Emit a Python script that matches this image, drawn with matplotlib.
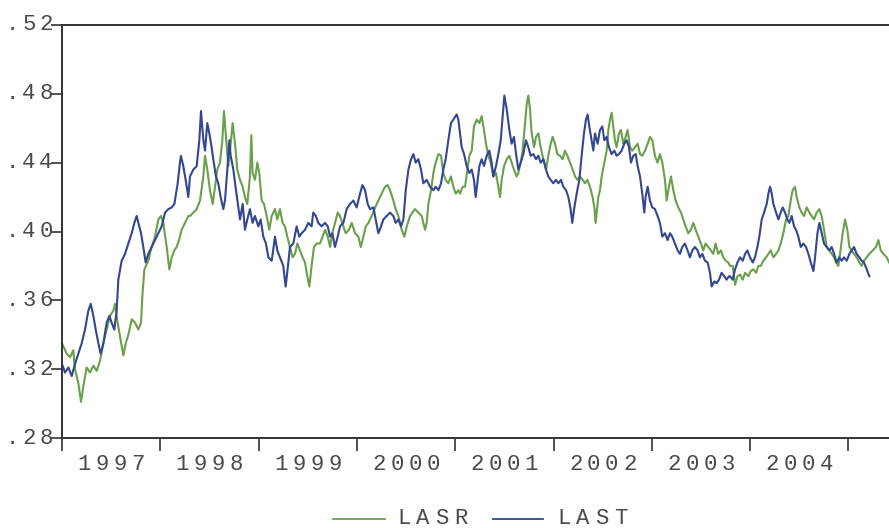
import matplotlib
matplotlib.use("Agg")
import matplotlib.pyplot as plt
from matplotlib.transforms import ScaledTranslation
from matplotlib.lines import Line2D

# ---- data: decimal-year dates and values ----
lasr_t = [1997.000, 1997.048, 1997.082, 1997.115, 1997.132, 1997.166, 1997.193, 1997.217, 1997.251, 1997.285,
          1997.319, 1997.353, 1997.387, 1997.421, 1997.454, 1997.488, 1997.522, 1997.539, 1997.566, 1997.590,
          1997.624, 1997.648, 1997.675, 1997.709, 1997.743, 1997.777, 1997.804, 1997.817, 1997.838, 1997.878,
          1997.912, 1997.946, 1997.980, 1998.007, 1998.031, 1998.065, 1998.092, 1998.116, 1998.143, 1998.166,
          1998.190, 1998.217, 1998.251, 1998.285,
          1998.302, 1998.336, 1998.370, 1998.404, 1998.438, 1998.455, 1998.478, 1998.505, 1998.533, 1998.556,
          1998.580, 1998.607, 1998.631, 1998.648, 1998.668, 1998.692, 1998.716, 1998.736, 1998.760, 1998.783,
          1998.811, 1998.838, 1998.861, 1998.885, 1998.912, 1998.926, 1998.939, 1998.963, 1998.987, 1999.007,
          1999.031, 1999.055, 1999.082, 1999.109, 1999.133, 1999.167, 1999.190, 1999.217, 1999.244, 1999.268,
          1999.292, 1999.319, 1999.346, 1999.370, 1999.394, 1999.421, 1999.448, 1999.472, 1999.495, 1999.516,
          1999.539, 1999.563, 1999.590, 1999.624, 1999.651,
          1999.676, 1999.703, 1999.727, 1999.750, 1999.777, 1999.805, 1999.828, 1999.862, 1999.886, 1999.920,
          1999.947, 1999.981, 2000.015, 2000.039, 2000.066, 2000.090, 2000.117, 2000.151, 2000.178, 2000.218,
          2000.252, 2000.286, 2000.313, 2000.337, 2000.371, 2000.395, 2000.422, 2000.456, 2000.483, 2000.507,
          2000.541, 2000.564, 2000.591, 2000.625, 2000.659, 2000.693, 2000.710, 2000.727, 2000.754, 2000.778,
          2000.801, 2000.829, 2000.856, 2000.879, 2000.903, 2000.930, 2000.957, 2000.981, 2001.005, 2001.032,
          2001.049, 2001.076, 2001.100, 2001.124, 2001.144, 2001.168, 2001.191, 2001.219, 2001.246, 2001.269,
          2001.293, 2001.313, 2001.337, 2001.361, 2001.388, 2001.415, 2001.439, 2001.456, 2001.473, 2001.497,
          2001.524, 2001.551, 2001.574, 2001.598, 2001.625, 2001.642, 2001.666, 2001.686, 2001.710, 2001.727,
          2001.744, 2001.761, 2001.778, 2001.802, 2001.822, 2001.846, 2001.869, 2001.897, 2001.924, 2001.947,
          2001.971, 2001.991, 2002.015, 2002.039, 2002.066, 2002.093, 2002.117, 2002.141, 2002.168, 2002.195,
          2002.219, 2002.242, 2002.269, 2002.297, 2002.320, 2002.344, 2002.371, 2002.398, 2002.418, 2002.428,
          2002.439, 2002.456, 2002.473, 2002.490, 2002.517, 2002.541, 2002.558, 2002.575, 2002.592, 2002.609,
          2002.625, 2002.642, 2002.666, 2002.686, 2002.710, 2002.734, 2002.754, 2002.778, 2002.802, 2002.829,
          2002.856, 2002.880, 2002.903, 2002.931, 2002.958, 2002.981, 2003.005, 2003.032, 2003.059, 2003.083,
          2003.107, 2003.134, 2003.151, 2003.168, 2003.195, 2003.219, 2003.242, 2003.269, 2003.297, 2003.320,
          2003.344, 2003.371, 2003.398, 2003.422, 2003.446, 2003.473, 2003.500, 2003.524, 2003.547, 2003.575,
          2003.602, 2003.625, 2003.649, 2003.676, 2003.703, 2003.727, 2003.751, 2003.778,
          2003.796, 2003.823, 2003.847, 2003.871, 2003.898, 2003.925, 2003.949, 2003.983, 2004.006, 2004.033,
          2004.061, 2004.084, 2004.108, 2004.135, 2004.162, 2004.186, 2004.210, 2004.237, 2004.264, 2004.288,
          2004.311, 2004.338, 2004.366, 2004.389, 2004.413, 2004.433, 2004.457, 2004.474, 2004.501, 2004.525,
          2004.549, 2004.576, 2004.603, 2004.627, 2004.650, 2004.677, 2004.705, 2004.728, 2004.752, 2004.779,
          2004.806, 2004.830, 2004.854, 2004.874, 2004.898, 2004.915, 2004.942, 2004.966, 2004.989, 2005.010,
          2005.033, 2005.057, 2005.084, 2005.111, 2005.135, 2005.159, 2005.186, 2005.213, 2005.247, 2005.281,
          2005.305, 2005.329, 2005.356, 2005.390, 2005.414]
lasr_v = [.335, .329, .327, .331, .320, .312, .301, .310, .321, .318,
          .322, .319, .325, .335, .343, .351, .354, .358, .347, .339,
          .328, .335, .340, .349, .347, .343, .347, .362, .378, .383,
          .391, .397, .407, .409, .405, .391, .378, .385, .389, .391,
          .395, .401, .405, .409,
          .409, .411, .413, .418, .432, .444, .436, .424, .416, .426,
          .436, .440, .453, .470, .455, .438, .451, .463, .451, .436,
          .430, .426, .420, .416, .432, .456, .434, .430, .440, .434,
          .418, .416, .409, .401, .409, .413, .407, .413, .405, .403,
          .397, .391, .385, .387, .393, .389, .385, .382, .374, .368,
          .380, .391, .393, .393, .397,
          .401, .397, .391, .399, .405, .411, .409, .403, .399, .401,
          .405, .399, .397, .391, .397, .403, .405, .409, .413, .418,
          .422, .426, .427, .424, .418, .413, .409, .401, .397, .403,
          .409, .411, .413, .411, .409, .401, .405, .416, .424, .434,
          .440, .445, .444, .434, .430, .428, .432, .426, .422, .424,
          .422, .426, .426, .436, .444, .447, .461, .465, .463, .467,
          .459, .451, .444, .440, .432, .434, .426, .420, .430, .438,
          .442, .444, .440, .436, .432, .434, .440, .447, .463, .474,
          .479, .471, .457, .449, .455, .457, .449, .442, .436, .444,
          .451, .455, .451, .445, .444, .442, .447, .444, .440, .436,
          .432, .430, .432, .430, .428, .430, .426, .420, .413, .405,
          .411, .420, .424, .432, .440, .447, .459, .465, .469, .461,
          .453, .449, .457, .459, .451, .455, .459, .449, .447, .449,
          .451, .445, .444, .447, .451, .455, .453, .444, .440, .445,
          .440, .430, .418, .424, .432, .424, .418, .414, .411, .407,
          .403, .399, .401, .405, .401, .397, .393, .389, .393, .391,
          .389, .387, .393, .387, .389, .385, .383, .382,
          .380, .380, .369, .374, .375, .372, .376, .374, .377, .378,
          .376, .380, .380, .383, .385, .387, .389, .385, .387, .389,
          .393, .399, .407, .409, .418, .424, .426, .420, .414, .411,
          .409, .414, .411, .409, .407, .411, .413, .409, .401, .391,
          .389, .387, .385, .382, .380, .387, .399, .407, .401, .391,
          .389, .387, .385, .382, .380, .383, .385, .387, .389, .391,
          .395, .389, .387, .385, .382]

last_t = [1997.000, 1997.031, 1997.065, 1997.099, 1997.132, 1997.166, 1997.200, 1997.234, 1997.268, 1997.292,
          1997.319, 1997.343, 1997.370, 1997.393, 1997.421, 1997.454, 1997.482, 1997.505, 1997.532, 1997.556,
          1997.573, 1997.607, 1997.641, 1997.675, 1997.709, 1997.736, 1997.760, 1997.777, 1997.804, 1997.827,
          1997.851, 1997.878, 1997.912, 1997.946, 1997.980, 1998.014, 1998.048, 1998.082, 1998.116, 1998.143,
          1998.177, 1998.200, 1998.210, 1998.234, 1998.258, 1998.285,
          1998.302, 1998.336, 1998.370, 1998.397, 1998.414, 1998.438, 1998.455, 1998.478, 1998.499, 1998.522,
          1998.539, 1998.566, 1998.590, 1998.614, 1998.641, 1998.658, 1998.682, 1998.702, 1998.716, 1998.743,
          1998.770, 1998.794, 1998.811, 1998.838, 1998.861, 1998.885, 1998.912, 1998.939, 1998.963, 1998.997,
          1999.021, 1999.048, 1999.075, 1999.099, 1999.133, 1999.167, 1999.190, 1999.217, 1999.251, 1999.275,
          1999.295, 1999.319, 1999.353, 1999.387, 1999.414, 1999.438, 1999.472, 1999.506, 1999.539, 1999.556,
          1999.583, 1999.607, 1999.641,
          1999.676, 1999.703, 1999.727, 1999.750, 1999.777, 1999.805, 1999.828, 1999.862, 1999.896, 1999.930,
          1999.964, 1999.998, 2000.032, 2000.056, 2000.083, 2000.110, 2000.134, 2000.168, 2000.191, 2000.218,
          2000.246, 2000.269, 2000.303, 2000.337, 2000.371, 2000.395, 2000.422, 2000.449, 2000.473, 2000.497,
          2000.524, 2000.551, 2000.575, 2000.598, 2000.625, 2000.652, 2000.676, 2000.710, 2000.744, 2000.778,
          2000.801, 2000.829, 2000.856, 2000.879, 2000.903, 2000.930, 2000.957, 2000.981, 2001.015, 2001.032,
          2001.049, 2001.066, 2001.090, 2001.117, 2001.144, 2001.168, 2001.191, 2001.208, 2001.225, 2001.246,
          2001.269, 2001.293, 2001.320, 2001.347, 2001.371, 2001.388, 2001.415, 2001.439, 2001.463, 2001.483,
          2001.500, 2001.524, 2001.551, 2001.574, 2001.598, 2001.619, 2001.642, 2001.666, 2001.693, 2001.720,
          2001.744, 2001.768, 2001.795, 2001.822, 2001.846, 2001.869, 2001.897, 2001.924, 2001.947, 2001.971,
          2001.998, 2002.025, 2002.049, 2002.076, 2002.100, 2002.127, 2002.151, 2002.174, 2002.191, 2002.212,
          2002.236, 2002.263, 2002.286, 2002.310, 2002.330, 2002.347, 2002.364, 2002.388, 2002.405,
          2002.422, 2002.449, 2002.473, 2002.497, 2002.517, 2002.541, 2002.564, 2002.592, 2002.619, 2002.642,
          2002.666, 2002.693, 2002.720, 2002.744, 2002.768, 2002.788, 2002.812, 2002.836, 2002.856, 2002.880,
          2002.903, 2002.924, 2002.937, 2002.958, 2002.981, 2003.005, 2003.032, 2003.059, 2003.083, 2003.107,
          2003.134, 2003.161, 2003.185, 2003.208, 2003.236, 2003.263, 2003.286, 2003.310, 2003.337, 2003.364,
          2003.388, 2003.412, 2003.439, 2003.466, 2003.490, 2003.514, 2003.541, 2003.568, 2003.592, 2003.609,
          2003.636, 2003.659, 2003.683, 2003.710, 2003.737, 2003.761, 2003.785,
          2003.796, 2003.823, 2003.847, 2003.871, 2003.898, 2003.925, 2003.949, 2003.972, 2003.999, 2004.027,
          2004.050, 2004.074, 2004.094, 2004.118, 2004.142, 2004.169, 2004.186, 2004.203, 2004.220, 2004.237,
          2004.264, 2004.288, 2004.311, 2004.332, 2004.355, 2004.379, 2004.399, 2004.423, 2004.447, 2004.467,
          2004.491, 2004.515, 2004.542, 2004.569, 2004.593, 2004.617, 2004.644, 2004.661, 2004.685, 2004.705,
          2004.728, 2004.752, 2004.779, 2004.806, 2004.830, 2004.854, 2004.881, 2004.908, 2004.932, 2004.956,
          2004.983, 2005.010, 2005.033, 2005.057, 2005.084, 2005.111, 2005.135, 2005.159, 2005.186, 2005.213]
last_v = [.323, .318, .321, .316, .323, .329, .335, .343, .354, .358,
          .351, .343, .335, .329, .335, .347, .351, .347, .343, .354,
          .372, .383, .387, .393, .399, .405, .409, .405, .399, .391,
          .382, .387, .391, .395, .399, .403, .411, .413, .414, .416,
          .428, .440, .444, .438, .430, .420,
          .432, .436, .438, .453, .470, .453, .447, .463, .457, .449,
          .442, .432, .428, .420, .413, .418, .436, .453, .444, .436,
          .424, .414, .407, .416, .401, .407, .413, .405, .409, .403,
          .407, .397, .393, .385, .383, .397, .389, .385, .380, .368,
          .378, .391, .393, .403, .397, .399, .401, .405, .403, .411,
          .409, .405, .403,
          .405, .403, .397, .399, .391, .397, .403, .405, .413, .416,
          .418, .414, .422, .427, .424, .416, .413, .414, .407, .399,
          .403, .407, .409, .411, .409, .405, .407, .403, .407, .424,
          .436, .442, .445, .440, .442, .436, .428, .430, .426, .424,
          .426, .424, .428, .436, .442, .453, .463, .465, .468, .465,
          .457, .449, .445, .438, .434, .436, .430, .420, .428, .438,
          .442, .438, .444, .447, .440, .432, .438, .445, .453, .467,
          .479, .471, .459, .451, .455, .445, .436, .440, .445, .453,
          .449, .444, .445, .442, .444, .440, .442, .436, .432, .430,
          .428, .430, .428, .430, .426, .424, .420, .413, .405, .414,
          .422, .430, .444, .457, .465, .468, .461, .453, .447,
          .457, .451, .459, .461, .453, .455, .449, .445, .447, .444,
          .445, .447, .451, .453, .449, .440, .444, .445, .438, .432,
          .422, .411, .420, .426, .418, .414, .413, .409, .405, .397,
          .399, .395, .399, .397, .393, .389, .387, .391, .393, .389,
          .385, .389, .391, .389, .385, .387, .383, .382, .376, .368,
          .371, .370, .372, .376, .374, .372, .374,
          .374, .372, .378, .382, .385, .383, .387, .389, .385, .382,
          .385, .391, .397, .407, .411, .416, .422, .426, .422, .416,
          .411, .407, .411, .414, .411, .407, .405, .409, .403, .401,
          .397, .391, .393, .391, .387, .382, .377, .385, .399, .405,
          .399, .393, .391, .389, .391, .387, .382, .385, .383, .385,
          .383, .387, .389, .391, .387, .385, .383, .382, .378, .374]

series_names = ["LASR", "LAST"]
year_labels = ["1997", "1998", "1999", "2000", "2001", "2002", "2003", "2004"]
y_ticks = [0.28, 0.32, 0.36, 0.40, 0.44, 0.48, 0.52]

# ---- styling ----
W, H, DPI = 889, 528, 100
GREEN = "#6a9f4b"
BLUE = "#33468f"
TXT = "#4a4a4a"
AX = "#333333"
FONT = "Liberation Mono"
FS = 16

fig = plt.figure(figsize=(W / DPI, H / DPI), dpi=DPI)
fig.patch.set_facecolor("white")
ax = fig.add_axes([62 / W, 1 - 438 / H, 1 - 62 / W, (438 - 25) / H])

ax.plot(lasr_t, lasr_v, color=GREEN, lw=1.5, solid_joinstyle="round")
ax.plot(last_t, last_v, color=BLUE, lw=1.5, solid_joinstyle="round")

x_start = 1997.0
x_end = x_start + (889 - 62) / 98.3
ax.set_xlim(x_start, x_end)
ax.set_ylim(0.28, 0.52)

for side in ("left", "bottom", "top"):
    ax.spines[side].set_color(AX)
    ax.spines[side].set_linewidth(1.4)
ax.spines["right"].set_visible(False)

year_bounds = [1997 + i for i in range(len(year_labels) + 1)]
ax.set_xticks(year_bounds)
ax.set_xticklabels([])
ax.set_yticks(y_ticks)
ax.set_yticklabels([])
ax.tick_params(axis="x", direction="out", length=9, width=1.2, color=AX)
ax.tick_params(axis="y", direction="out", length=8, width=1.2, color=AX)


def spaced_text(x, y, s, base, advance_px, align="center", **kw):
    """Draw a string one glyph at a time with a fixed pixel pitch."""
    n = len(s)
    for i, ch in enumerate(s):
        if align == "center":
            off = (i - (n - 1) / 2) * advance_px
        else:  # right: last glyph centred at (x, y)
            off = -(n - 1 - i) * advance_px
        tr = base + ScaledTranslation(off / DPI, 0, fig.dpi_scale_trans)
        fig.text(x, y, ch, transform=tr, ha="center", va="center",
                 family=FONT, fontsize=FS, color=TXT, clip_on=False, **kw)


# year labels centred in each year
xlab_tr = ax.get_xaxis_transform() + ScaledTranslation(0, -26 / DPI, fig.dpi_scale_trans)
for i, lab in enumerate(year_labels):
    spaced_text(year_bounds[i] + 0.5, 0, lab, xlab_tr, 18)

# value labels written as ".52" etc.
ylab_tr = ax.get_yaxis_transform() + ScaledTranslation(-16 / DPI, 0, fig.dpi_scale_trans)
for v in y_ticks:
    lab = f"{v:.2f}"[1:]
    spaced_text(0, v, lab, ylab_tr, 17, align="right")

# legend below the plot
ly = 1 - 519 / H
fig.add_artist(Line2D([333 / W, 385 / W], [ly, ly], color=GREEN, lw=1.3, transform=fig.transFigure))
fig.add_artist(Line2D([493 / W, 543 / W], [ly, ly], color=BLUE, lw=1.3, transform=fig.transFigure))
spaced_text(432.5 / W, ly, series_names[0], fig.transFigure, 19)
spaced_text(592.5 / W, ly, series_names[1], fig.transFigure, 19)

fig.savefig("out.png", dpi=DPI, facecolor="white")
